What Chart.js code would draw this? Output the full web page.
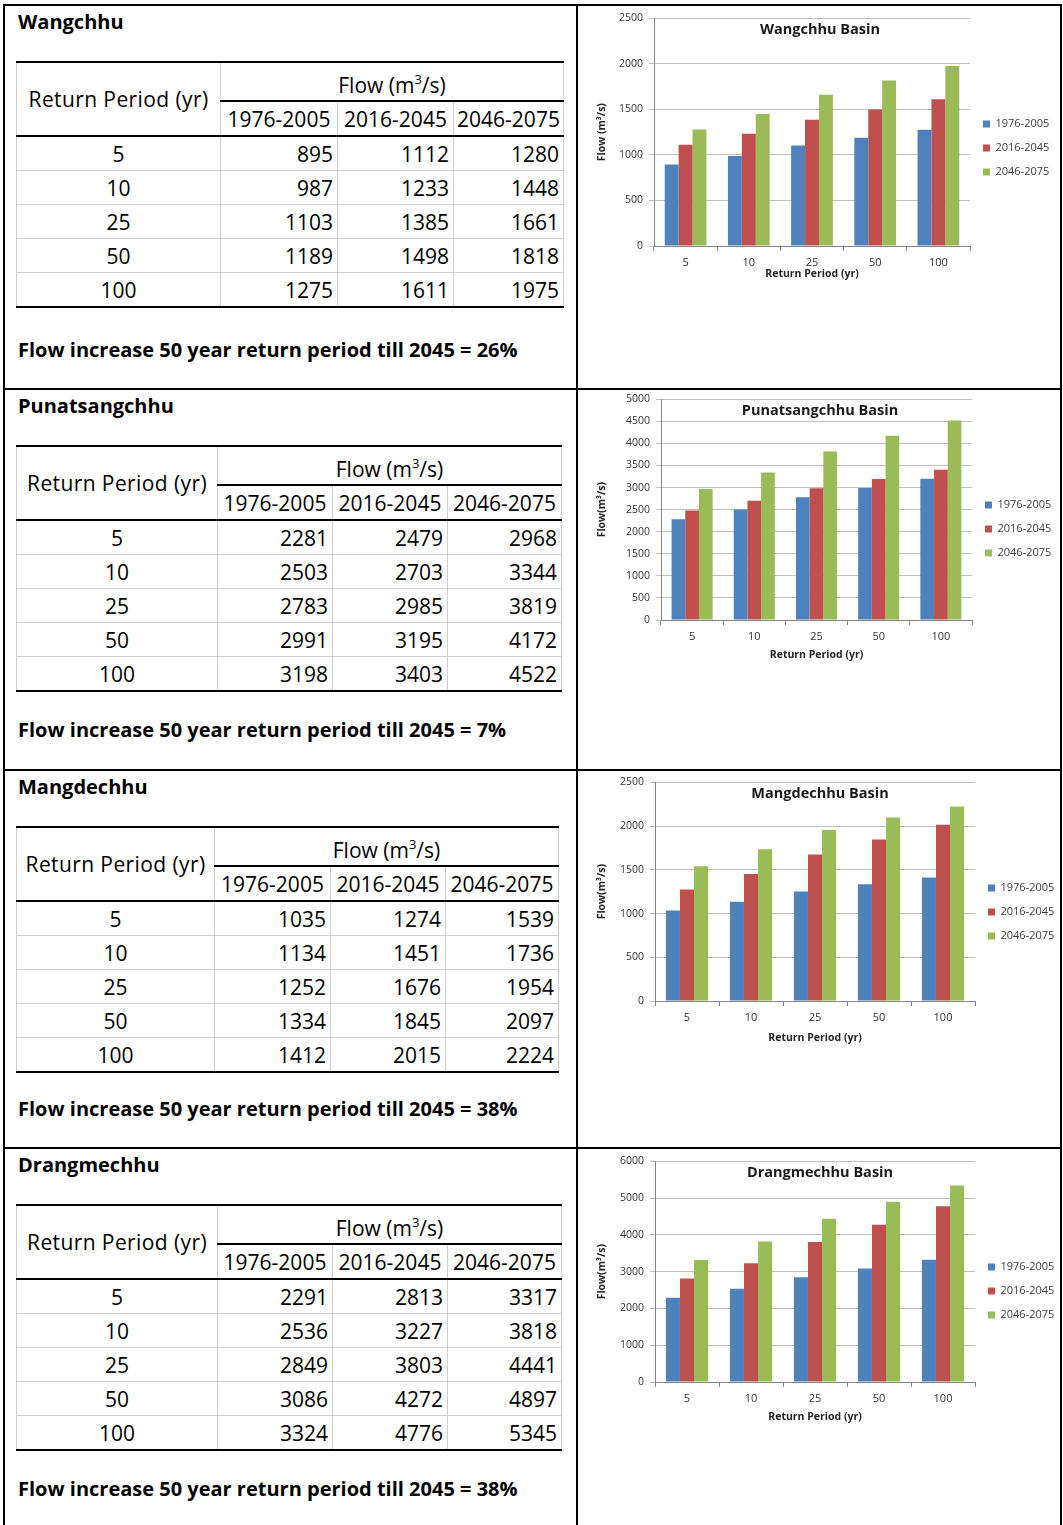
<!DOCTYPE html>
<html>
<head>
<meta charset="utf-8">
<script src="https://cdn.jsdelivr.net/npm/chart.js@4.4.1/dist/chart.umd.min.js"></script>
<style>
html, body { margin: 0; padding: 0; background: #fff; }
body { width: 1063px; height: 1525px; position: relative; overflow: hidden; font-family: "Open Sans", sans-serif; color: #000; }
.line { position: absolute; background: #000; }
.name, .note { position: absolute; left: 18px; font-weight: bold; font-size: 20px; line-height: 26px; white-space: nowrap; }
table.flow { position: absolute; left: 16px; border-collapse: collapse; table-layout: fixed; font-size: 21px; }
table.flow td { border: 1px solid #cfcfcf; padding: 0 4px; white-space: nowrap; line-height: 24px; }
table.flow tr.h1 td { height: 37px; border-top: 2px solid #000; }
table.flow tr.h2 td { height: 33px; border-bottom: 2px solid #000; text-align: center; padding: 0; }
table.flow td.rp { text-align: center; border-bottom: 2px solid #000; padding: 0; letter-spacing: 0.4px; }
table.flow td.fh { text-align: center; border-bottom: 2px solid #000; }
table.flow td.fh span { position: relative; top: 3px; }
table.flow tr.d td { height: 33px; text-align: right; }
table.flow tr.d td.c { text-align: center; }
table.flow tr.last td { border-bottom: 2px solid #000; }
table.flow sup { font-size: 13px; vertical-align: 9px; line-height: 0; }
canvas { position: absolute; left: 580px; }
</style>
</head>
<body>
<script>
// data
const returnPeriods = ['5', '10', '25', '50', '100'];
const periodLabels = ['1976-2005', '2016-2045', '2046-2075'];
const basinNames = ['Wangchhu', 'Punatsangchhu', 'Mangdechhu', 'Drangmechhu'];

const wangchhuBase = [895, 987, 1103, 1189, 1275];
const wangchhuMid = [1112, 1233, 1385, 1498, 1611];
const wangchhuLate = [1280, 1448, 1661, 1818, 1975];

const punatsangchhuBase = [2281, 2503, 2783, 2991, 3198];
const punatsangchhuMid = [2479, 2703, 2985, 3195, 3403];
const punatsangchhuLate = [2968, 3344, 3819, 4172, 4522];

const mangdechhuBase = [1035, 1134, 1252, 1334, 1412];
const mangdechhuMid = [1274, 1451, 1676, 1845, 2015];
const mangdechhuLate = [1539, 1736, 1954, 2097, 2224];

const drangmechhuBase = [2291, 2536, 2849, 3086, 3324];
const drangmechhuMid = [2813, 3227, 3803, 4272, 4776];
const drangmechhuLate = [3317, 3818, 4441, 4897, 5345];

const flowIncrease = ['26%', '7%', '38%', '38%'];
const yTickMax = [2500, 5000, 2500, 6000];
const yTickStep = [500, 500, 500, 1000];
const yAxisTitles = ['Flow (m\u00b3/s)', 'Flow(m\u00b3/s)', 'Flow(m\u00b3/s)', 'Flow(m\u00b3/s)'];

const basinSeries = [
    [wangchhuBase, wangchhuMid, wangchhuLate],
    [punatsangchhuBase, punatsangchhuMid, punatsangchhuLate],
    [mangdechhuBase, mangdechhuMid, mangdechhuLate],
    [drangmechhuBase, drangmechhuMid, drangmechhuLate]
];

const barColors = ['#4F81BD', '#C0504D', '#9BBB59'];

// layout of the page
const rowTops = [4, 388, 769, 1147];
const noteOffsets = [333, 329, 327, 329];
const tableWidths = [547, 545, 542, 545];
const tableCols = [[204, 117, 116, 110], [201, 115, 115, 114], [198, 116, 115, 113], [201, 115, 115, 114]];
const canvasTops = [6, 387, 770, 1149];
const xAxisHeights = [34, 41, 43, 41];
const yAxisWidths = [74, 81, 75, 75];
const plotRights = [970, 972, 975, 975];
const canvasW = 488, canvasH = 274;

// frame lines
function addLine(x, y, w, h) {
    const d = document.createElement('div');
    d.className = 'line';
    d.style.left = x + 'px'; d.style.top = y + 'px';
    d.style.width = w + 'px'; d.style.height = h + 'px';
    document.body.appendChild(d);
}
addLine(3, 4, 2, 1530);
addLine(576, 4, 2, 1530);
addLine(1060, 4, 2, 1530);
rowTops.forEach(t => addLine(3, t, 1059, 2));

// legend width so the plot ends where it should
const mctx = document.createElement('canvas').getContext('2d');
mctx.font = '11px "Open Sans"';
const legendW = 13 + 7 + 5.5 + mctx.measureText(periodLabels[0]).width + 10;

Chart.defaults.font.family = '"Open Sans", sans-serif';
Chart.defaults.color = '#333333';

const basinTitle = {
    id: 'basinTitle',
    afterDraw(chart, args, opts) {
        const ctx = chart.ctx;
        ctx.save();
        ctx.font = 'bold 14.5px "Open Sans"';
        ctx.fillStyle = '#1a1a1a';
        ctx.textAlign = 'center';
        ctx.textBaseline = 'middle';
        ctx.fillText(opts.text, chart.width / 2 - 4, chart.chartArea.top + 12);
        ctx.restore();
    }
};

basinNames.forEach((name, i) => {
    const top = rowTops[i];

    const title = document.createElement('div');
    title.className = 'name';
    title.style.top = (top + 5) + 'px';
    title.textContent = name;
    document.body.appendChild(title);

    // table
    const table = document.createElement('table');
    table.className = 'flow';
    table.style.top = (top + 57) + 'px';
    table.style.width = tableWidths[i] + 'px';
    let html = '<colgroup>' + tableCols[i].map(w => '<col style="width:' + w + 'px">').join('') + '</colgroup>';
    html += '<tr class="h1"><td class="rp" rowspan="2">Return Period (yr)</td><td class="fh" colspan="3"><span>Flow (m<sup>3</sup>/s)</span></td></tr>';
    html += '<tr class="h2">' + periodLabels.map(p => '<td>' + p + '</td>').join('') + '</tr>';
    returnPeriods.forEach((rp, j) => {
        const cls = j === returnPeriods.length - 1 ? 'd last' : 'd';
        html += '<tr class="' + cls + '"><td class="c">' + rp + '</td>' +
            basinSeries[i].map(s => '<td>' + s[j] + '</td>').join('') + '</tr>';
    });
    table.innerHTML = html;
    document.body.appendChild(table);

    const note = document.createElement('div');
    note.className = 'note';
    note.style.top = (top + noteOffsets[i]) + 'px';
    note.textContent = 'Flow increase 50 year return period till 2045 = ' + flowIncrease[i];
    document.body.appendChild(note);

    // chart
    const canvas = document.createElement('canvas');
    canvas.width = canvasW;
    canvas.height = canvasH;
    canvas.style.top = canvasTops[i] + 'px';
    document.body.appendChild(canvas);

    new Chart(canvas.getContext('2d'), {
        type: 'bar',
        data: {
            labels: returnPeriods,
            datasets: periodLabels.map((p, k) => ({
                label: p,
                data: basinSeries[i][k],
                backgroundColor: barColors[k],
                borderWidth: 0,
                categoryPercentage: 0.66,
                barPercentage: 1.0
            }))
        },
        options: {
            responsive: false,
            animation: false,
            layout: {
                padding: { top: 10, left: 0, bottom: 0, right: canvasW - (plotRights[i] - 580) - legendW }
            },
            plugins: {
                tooltip: { enabled: false },
                basinTitle: { text: name + ' Basin' },
                legend: {
                    position: 'right',
                    align: 'center',
                    labels: {
                        boxWidth: 7,
                        boxHeight: 7,
                        padding: 13,
                        font: { size: 11 },
                        color: '#404040'
                    }
                }
            },
            scales: {
                x: {
                    afterFit: s => { s.height = xAxisHeights[i]; },
                    grid: { drawOnChartArea: false, drawTicks: true, tickLength: 5, color: '#868686' },
                    border: { color: '#868686' },
                    ticks: { padding: 5, font: { size: 11 } },
                    title: {
                        display: true,
                        text: 'Return Period (yr)',
                        padding: { top: 0, bottom: 0 },
                        font: { size: 10.5, weight: 'bold' },
                        color: '#262626'
                    }
                },
                y: {
                    min: 0,
                    max: yTickMax[i],
                    afterFit: s => { s.width = yAxisWidths[i]; },
                    grid: { color: '#c0c0c0', tickLength: 5 },
                    border: { color: '#868686' },
                    ticks: { stepSize: yTickStep[i], padding: 6, font: { size: 10.5 }, callback: v => String(v) },
                    title: {
                        display: true,
                        text: yAxisTitles[i],
                        padding: { top: 16, bottom: 0 },
                        font: { size: 10.5, weight: 'bold' },
                        color: '#262626'
                    }
                }
            }
        },
        plugins: [basinTitle]
    });
});
</script>
</body>
</html>
